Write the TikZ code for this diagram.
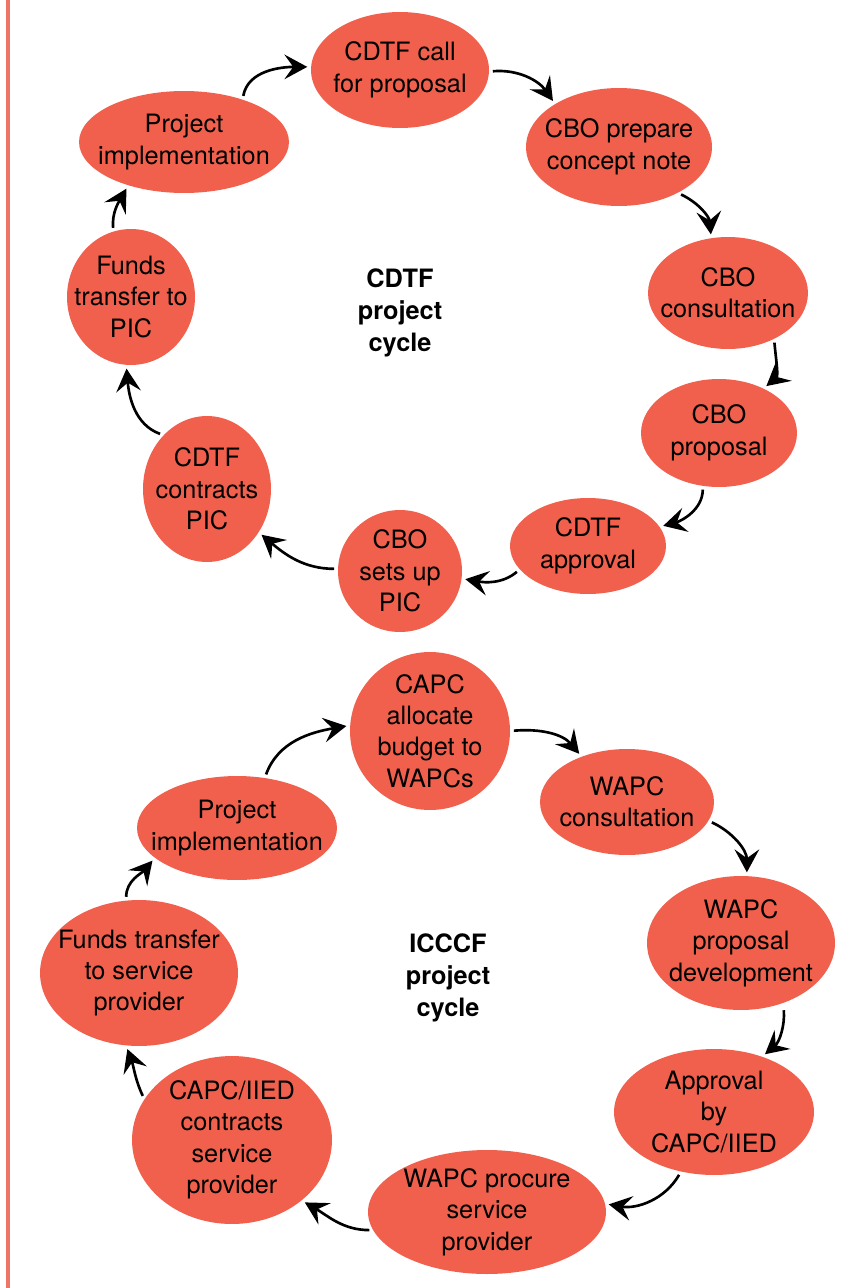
\documentclass[tikz,border=0pt]{standalone}
\usepackage{fontspec}
\setmainfont{TeX Gyre Heros}
\usepackage{xcolor}
\definecolor{salmon}{RGB}{240,96,77}
\definecolor{edgered}{RGB}{238,118,102}
\usetikzlibrary{shapes.geometric,arrows.meta}
\tikzset{
  stage/.style={ellipse, fill=salmon, inner sep=0pt},
  stagetext/.style={align=center, text=black, inner sep=0pt, font=\fontsize{14.4}{17.9}\selectfont},
  cyclename/.style={align=center, font=\fontsize{14.4}{18.1}\selectfont\bfseries},
  line/.style={draw, line width=1.5pt, -{Stealth[length=13pt,width=14pt,inset=5pt]}, shorten <=2pt, shorten >=2pt},
}

\begin{document}
\begin{tikzpicture}[x=0.02cm,y=-0.02cm]
  \useasboundingbox (0,0) rectangle (867,1288);
  \draw[edgered, line width=2.2pt] (8,0) -- (8,1288);

  % CDTF project cycle
  \node[stage,minimum width=3.56cm,minimum height=2.32cm,label={[stagetext]center:CDTF call\\for proposal}] (call) at (400,70) {};
  \node[stage,minimum width=3.72cm,minimum height=2.36cm,label={[stagetext]center:CBO prepare\\concept note}] (prep) at (619,147) {};
  \node[stage,minimum width=3.20cm,minimum height=2.24cm,label={[stagetext]center:CBO\\consultation}] (cons1) at (728,293) {};
  \node[stage,minimum width=3.12cm,minimum height=2.16cm,label={[stagetext]center:CBO\\proposal}] (prop1) at (719,433) {};
  \node[stage,minimum width=3.12cm,minimum height=1.92cm,label={[stagetext]center:CDTF\\approval}] (appr1) at (588,546) {};
  \node[stage,minimum width=2.48cm,minimum height=2.44cm,label={[stagetext]center:CBO\\sets up\\PIC}] (setup) at (400,571) {};
  \node[stage,minimum width=2.56cm,minimum height=2.92cm,label={[stagetext]center:CDTF\\contracts\\PIC}] (contr1) at (207,489) {};
  \node[stage,minimum width=2.56cm,minimum height=2.72cm,label={[stagetext]center:Funds\\transfer to\\PIC}] (funds1) at (131,297) {};
  \node[stage,minimum width=4.20cm,minimum height=2.04cm,label={[stagetext]center:Project\\implementation}] (impl1) at (184,142) {};
  \node[cyclename] (cdtf) at (400,313) {CDTF\\project\\cycle};

  \draw[line] (impl1.36) to[out=80,in=180] (call.178);
  \draw[line] (call.-1) to[out=5,in=125] (prep.146);
  \draw[line] (prep.-38) to[out=-25,in=95] (cons1.107);
  \draw[line] (cons1.-45) to[out=-85,in=40] (prop1.45);
  \draw[line] (prop1.-107) to[out=-90,in=15] (appr1.15);
  \draw[line] (appr1.-161) to[out=-140,in=-10] (setup.-7);
  \draw[line] (setup.178) to[out=180,in=-40] (contr1.-40);
  \draw[line] (contr1.129) to[out=160,in=-85] (funds1.-94);
  \draw[line] (funds1.105) to[out=95,in=-120] (impl1.-142);

  % ICCCF project cycle
  \node[stage,minimum width=3.20cm,minimum height=3.16cm,label={[stagetext]center:CAPC\\allocate\\budget to\\WAPCs}] (alloc) at (430,731) {};
  \node[stage,minimum width=3.48cm,minimum height=2.12cm,label={[stagetext]center:WAPC\\consultation}] (cons2) at (627,802) {};
  \node[stage,minimum width=3.76cm,minimum height=2.68cm,label={[stagetext]center:WAPC\\proposal\\development}] (dev) at (741,943) {};
  \node[stage,minimum width=4.00cm,minimum height=2.52cm,label={[stagetext]center:Approval\\by\\CAPC/IIED}] (appr2) at (714,1112) {};
  \node[stage,minimum width=4.76cm,minimum height=2.48cm,label={[stagetext]center:WAPC procure\\service\\provider}] (proc) at (487,1212) {};
  \node[stage,minimum width=4.00cm,minimum height=3.36cm,label={[stagetext]center:CAPC/IIED\\contracts\\service\\provider}] (contr2) at (232,1140) {};
  \node[stage,minimum width=3.96cm,minimum height=2.92cm,label={[stagetext]center:Funds transfer\\to service\\provider}] (funds2) at (139,973) {};
  \node[stage,minimum width=4.00cm,minimum height=2.08cm,label={[stagetext]center:Project\\implementation}] (impl2) at (237,828) {};
  \node[cyclename] (icccf) at (448,978) {ICCCF\\project\\cycle};

  \draw[line] (impl2.61) to[out=70,in=190] (alloc.176);
  \draw[line] (alloc.0) to[out=5,in=130] (cons2.135);
  \draw[line] (cons2.-13) to[out=-25,in=90] (dev.85);
  \draw[line,shorten <=4pt] (dev.-55) to[out=-85,in=40] (appr2.49);
  \draw[line] (appr2.-119) to[out=-120,in=-10] (proc.4);
  \draw[line] (proc.-171) to[out=180,in=-30] (contr2.-41);
  \draw[line] (contr2.155) to[out=115,in=-70] (funds2.-100);
  \draw[line] (funds2.100) to[out=90,in=-130] (impl2.-160);
\end{tikzpicture}
\end{document}
